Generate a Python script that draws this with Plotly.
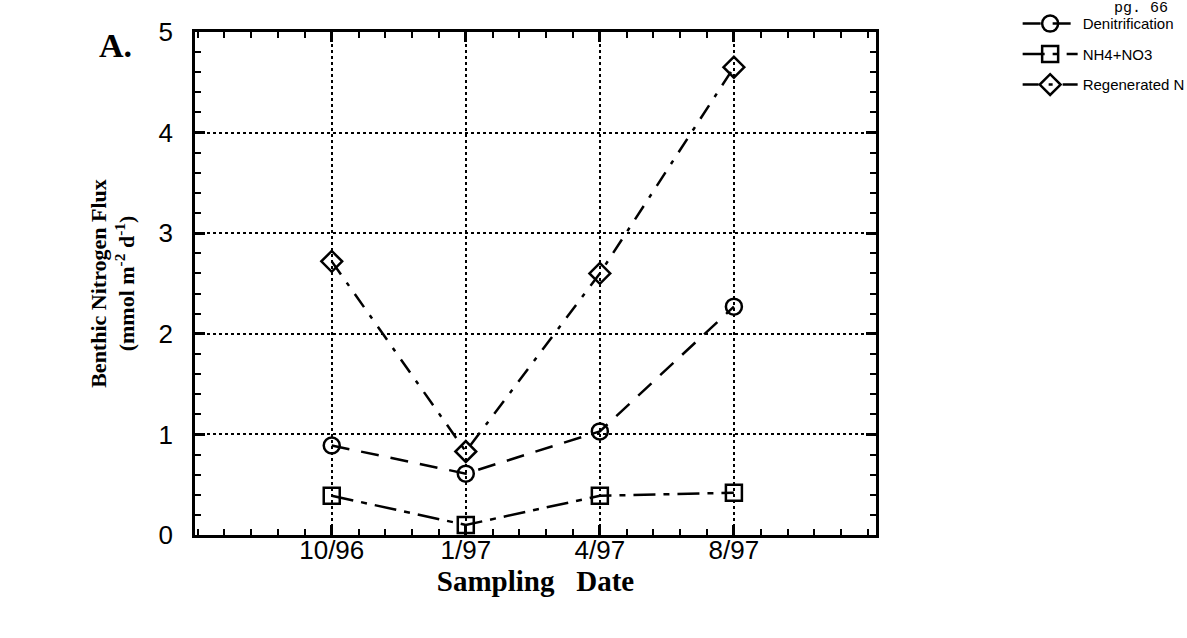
import plotly.graph_objects as go

# Sampling campaigns and benthic nitrogen fluxes (mmol m-2 d-1)
dates = ["10/96", "1/97", "4/97", "8/97"]
denitrification = [0.89, 0.61, 1.03, 2.27]
nh4_no3 = [0.39, 0.10, 0.39, 0.42]
regenerated_n = [2.72, 0.83, 2.60, 4.65]
y_ticks = [0, 1, 2, 3, 4, 5]

x_pos = [i + 1 for i in range(len(dates))]

fig = go.Figure()

series = [
    ("Denitrification", denitrification, "circle-open", "18px,12px"),
    ("NH4+NO3", nh4_no3, "square-open", "22px,8px,6px,8px"),
    ("Regenerated N", regenerated_n, "diamond-open", "16px,10px,4px,10px"),
]
for name, vals, sym, dash in series:
    fig.add_trace(go.Scatter(
        x=x_pos, y=vals, name=name, mode="lines+markers",
        line=dict(color="black", width=2.5, dash=dash),
        marker=dict(symbol=sym, size=16, color="black", line=dict(width=2.5, color="black")),
        legendgroup=name,
    ))

serif = "Liberation Serif, Times New Roman"
sans = "Liberation Sans, Arial"

axis_common = dict(
    showline=True, linecolor="black", linewidth=2.5, mirror="ticks",
    ticks="inside", ticklen=10, tickwidth=2.5, tickcolor="black",
    showgrid=True, gridcolor="black", gridwidth=1.5, griddash="dot",
    zeroline=False,
    tickfont=dict(family=sans, size=26, color="black"),
)

fig.update_xaxes(
    range=[-0.02, 5.06], tickvals=x_pos, ticktext=dates, ticklabelstandoff=-10,
    minor=dict(ticks="inside", ticklen=6, tickwidth=2, tickcolor="black", dtick=0.2, tick0=0, showgrid=False),
    title=dict(text="<b>Sampling   Date</b>", font=dict(family=serif, size=29, color="black"), standoff=4),
    **axis_common,
)
fig.update_yaxes(
    range=[0, 5], tickvals=y_ticks, ticklabelstandoff=14,
    minor=dict(ticks="inside", ticklen=6, tickwidth=2, tickcolor="black", dtick=0.2, tick0=0, showgrid=False),
    title=dict(text="<b>Benthic Nitrogen Flux</b><br><b>(mmol m<sup>-2</sup> d<sup>-1</sup>)</b>",
               font=dict(family=serif, size=22, color="black"), standoff=18),
    **axis_common,
)

fig.add_annotation(text="<b>A.</b>", xref="paper", yref="paper", x=-0.117, y=0.974,
                   xanchor="center", yanchor="middle", showarrow=False,
                   font=dict(family=serif, size=34, color="black"))
fig.add_annotation(text="pg. 66", xref="paper", yref="paper", x=1.389, y=1.046,
                   xanchor="center", yanchor="middle", showarrow=False,
                   font=dict(family="Liberation Mono, Courier New", size=15, color="black"))

fig.update_layout(
    width=1187, height=638,
    margin=dict(l=195, r=311, t=32, b=103, autoexpand=False),
    plot_bgcolor="white", paper_bgcolor="white",
    showlegend=True,
    legend=dict(x=1.208, y=1.049, xanchor="left", yanchor="top",
                font=dict(family=sans, size=15, color="black"),
                itemwidth=55, tracegroupgap=8, bgcolor="rgba(0,0,0,0)"),
)

fig.write_html("out.html")
